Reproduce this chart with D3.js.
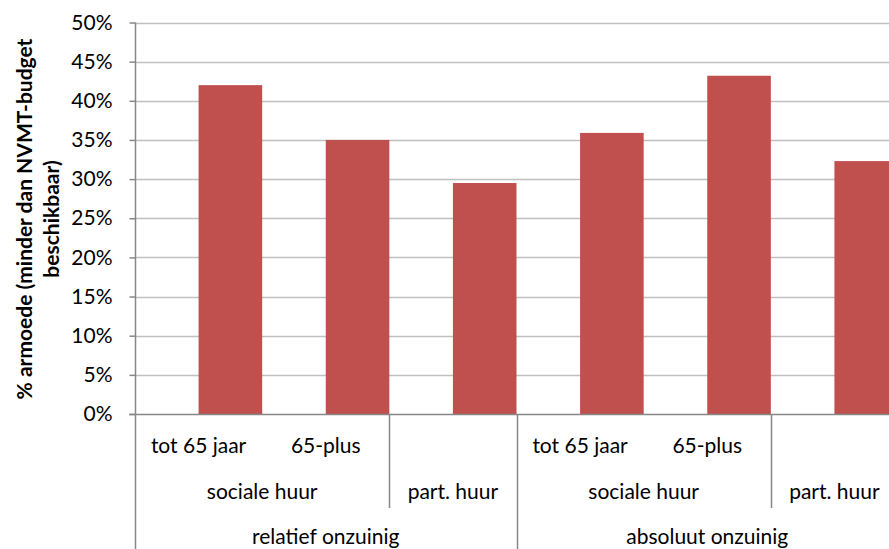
<!DOCTYPE html>
<html>
<head>
<meta charset="utf-8">
<script src="https://cdn.jsdelivr.net/npm/d3@7"></script>
<style>
  html, body { margin: 0; padding: 0; background: #fff; }
  svg { display: block; }
  text { font-family: Lato, "Open Sans", sans-serif; fill: #000; }
</style>
</head>
<body>
<svg id="chart" width="889" height="549"></svg>
<script>
// Poverty share per group (fraction of households)
const categories = ["rel-sh-tot65", "rel-sh-65plus", "rel-ph", "abs-sh-tot65", "abs-sh-65plus", "abs-ph"];
const values = [0.420, 0.350, 0.295, 0.359, 0.432, 0.323];
const ageLabels = ["tot 65 jaar", "65-plus", "", "tot 65 jaar", "65-plus", ""];
// Second-level groups: [label, first index, last index]
const rentGroups = [["sociale huur", 0, 1], ["part. huur", 2, 2], ["sociale huur", 3, 4], ["part. huur", 5, 5]];
// Top-level groups
const budgetGroups = [["relatief onzuinig", 0, 2], ["absoluut onzuinig", 3, 5]];
const yTicks = [0, 0.05, 0.10, 0.15, 0.20, 0.25, 0.30, 0.35, 0.40, 0.45, 0.50];
const yTitle = ["% armoede (minder dan NVMT-budget", "beschikbaar)"];

const svg = d3.select("#chart");
const mLeft = 135, mRight = 898, mTop = 22.5, mBottom = 414;
const labelSize = "21px";

const x = d3.scaleBand().domain(categories).range([mLeft, mRight]).padding(0);
const y = d3.scaleLinear().domain([0, 0.5]).range([mBottom, mTop]);

const gridColor = "#c0c0c0", axisColor = "#878787";

// horizontal gridlines
svg.append("g").selectAll("line").data(yTicks.filter(d => d > 0)).join("line")
  .attr("x1", mLeft).attr("x2", mRight)
  .attr("y1", d => Math.round(y(d)) + 0.5).attr("y2", d => Math.round(y(d)) + 0.5)
  .attr("stroke", gridColor).attr("stroke-width", 1.5);

// bars sit in the right half of each category slot
svg.append("g").selectAll("rect").data(values).join("rect")
  .attr("x", (d, i) => x(categories[i]) + x.bandwidth() / 2)
  .attr("width", x.bandwidth() / 2)
  .attr("y", d => y(d))
  .attr("height", d => y(0) - y(d))
  .attr("fill", "#c0504d");

// y axis
const yAxis = d3.axisLeft(y).tickValues(yTicks).tickSize(6).tickPadding(17)
  .tickFormat(d3.format(".0%"));
const gy = svg.append("g").attr("transform", `translate(${mLeft + 0.5},0)`).call(yAxis);
gy.select(".domain").remove();
gy.selectAll(".tick line").attr("stroke", axisColor).attr("stroke-width", 1.5);
gy.selectAll(".tick text").style("font-size", labelSize).style("font-family", "Lato, sans-serif").attr("fill", "#000");

// axis lines
svg.append("line").attr("x1", mLeft + 0.5).attr("x2", mLeft + 0.5).attr("y1", mTop).attr("y2", 549)
  .attr("stroke", axisColor).attr("stroke-width", 1.5);
svg.append("line").attr("x1", mLeft - 6).attr("x2", mRight).attr("y1", mBottom + 0.5).attr("y2", mBottom + 0.5)
  .attr("stroke", axisColor).attr("stroke-width", 1.5);

// multi-level category labels
const row1 = 453, row2 = 499, row3 = 544;
svg.append("g").selectAll("text").data(ageLabels).join("text")
  .attr("x", (d, i) => x(categories[i]) + x.bandwidth() / 2)
  .attr("y", row1).attr("text-anchor", "middle").style("font-size", labelSize)
  .text(d => d);

const span = g => [x(categories[g[1]]), x(categories[g[2]]) + x.bandwidth()];

svg.append("g").selectAll("text").data(rentGroups).join("text")
  .attr("x", g => d3.mean(span(g))).attr("y", row2)
  .attr("text-anchor", "middle").style("font-size", labelSize).text(g => g[0]);

svg.append("g").selectAll("text").data(budgetGroups).join("text")
  .attr("x", g => d3.mean(span(g))).attr("y", row3)
  .attr("text-anchor", "middle").style("font-size", labelSize).text(g => g[0]);

// separators between rent groups (two rows deep) and budget groups (full depth)
svg.append("g").selectAll("line").data(rentGroups.slice(0, -1)).join("line")
  .attr("x1", g => Math.round(span(g)[1]) + 0.5).attr("x2", g => Math.round(span(g)[1]) + 0.5)
  .attr("y1", mBottom).attr("y2", g => budgetGroups.some(b => b[2] === g[2]) ? 549 : 508)
  .attr("stroke", axisColor).attr("stroke-width", 1.5);

// y-axis title
svg.append("text")
  .attr("transform", `translate(0,219) rotate(-90)`)
  .attr("text-anchor", "middle")
  .style("font-size", "21px").style("font-weight", "bold")
  .selectAll("tspan").data(yTitle).join("tspan")
  .attr("x", 0).attr("y", (d, i) => 32 + i * 27)
  .text(d => d);
</script>
</body>
</html>
